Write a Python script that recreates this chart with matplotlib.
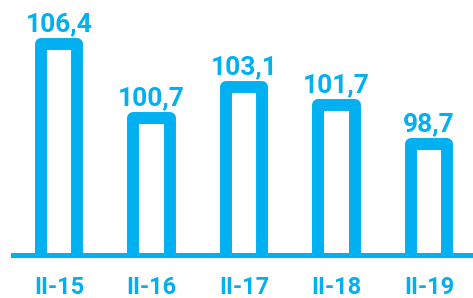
import matplotlib.pyplot as plt

# Daten
kategorien = ["II-15", "II-16", "II-17", "II-18", "II-19"]
werte = [106.4, 100.7, 103.1, 101.7, 98.7]
beschriftungen = ["106,4", "100,7", "103,1", "101,7", "98,7"]

blau = "#00B0F0"
plt.rcParams["font.family"] = ["Roboto", "DejaVu Sans"]

fig = plt.figure(figsize=(4.73, 2.98), dpi=100)
ax = fig.add_axes([0, 0, 1, 1])
ax.set_xlim(-0.638, 4.476)
ax.set_ylim(86.84, 109.76)
ax.axis("off")

basis = 90.11
halb = 0.195

# Balken als offene Umrisse (ohne Unterkante)
for i, w in enumerate(werte):
    ax.plot([i - halb, i - halb, i + halb, i + halb], [basis, w, w, basis],
            color=blau, linewidth=8.6, solid_joinstyle="round", solid_capstyle="butt", zorder=2)

# Grundlinie
ax.axhline(basis, xmin=13 / 473, xmax=1, color=blau, linewidth=3.6, zorder=3)

for i, w in enumerate(werte):
    ax.annotate(beschriftungen[i], (i, w), xytext=(0, 9), textcoords="offset points",
                ha="center", va="baseline", fontsize=19, fontweight="bold", color=blau)
    ax.text(i, 90.3 - 41 / 13, kategorien[i], ha="center", va="baseline",
            fontsize=17, fontweight="bold", color=blau)

fig.savefig("out.png", dpi=100)
